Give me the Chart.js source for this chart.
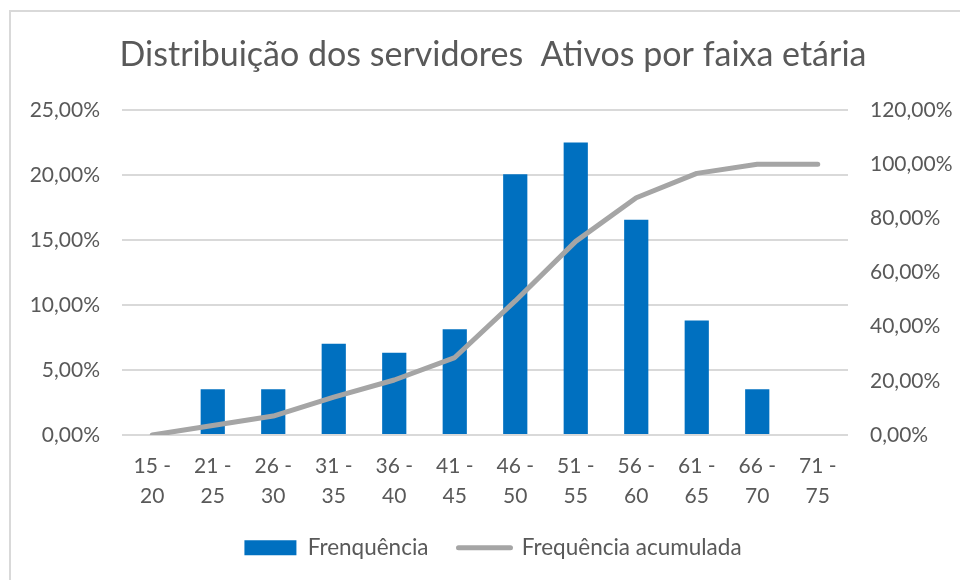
<!DOCTYPE html>
<html>
<head>
<meta charset="utf-8">
<script src="https://cdn.jsdelivr.net/npm/chart.js@4"></script>
<style>
  html, body { margin: 0; padding: 0; background: #fff; }
  #wrap { position: relative; width: 960px; height: 580px; overflow: hidden; }
  #frame { position: absolute; left: 9px; top: 10px; width: 1000px; height: 600px;
           border-left: 2px solid #D9D9D9; border-top: 2px solid #D9D9D9; box-sizing: border-box; }
  canvas { position: absolute; left: 0; top: 0; }
</style>
</head>
<body>
<div id="wrap">
  <div id="frame"></div>
  <canvas id="c" width="960" height="580"></canvas>
</div>
<script>
const categories = [["15 -","20"],["21 -","25"],["26 -","30"],["31 -","35"],["36 -","40"],["41 -","45"],["46 -","50"],["51 -","55"],["56 -","60"],["61 -","65"],["66 -","70"],["71 -","75"]];
const frequencia = [0, 3.51, 3.51, 7.02, 6.32, 8.14, 20.05, 22.5, 16.55, 8.8, 3.51, 0];
const frequenciaAcumulada = [0, 3.5, 7.0, 14.0, 20.3, 28.6, 49.5, 71.5, 87.6, 96.6, 100, 100];
const leftTicks = [0, 5, 10, 15, 20, 25];
const rightTicks = [0, 20, 40, 60, 80, 100, 120];
const titleText = "Distribuição dos servidores  Ativos por faixa etária";
const seriesNames = ["Frenquência", "Frequência acumulada"];

const FONT = "Lato, 'Open Sans', sans-serif";
const TXT = "#595959";
const fmt = v => v.toFixed(2).replace('.', ',') + '%';

new Chart(document.getElementById('c'), {
  data: {
    labels: categories,
    datasets: [
      { type: 'bar', label: seriesNames[0], data: frequencia, yAxisID: 'y',
        backgroundColor: '#0070C0', borderWidth: 0, order: 1,
        barPercentage: 0.4, categoryPercentage: 1.0 },
      { type: 'line', label: seriesNames[1], data: frequenciaAcumulada, yAxisID: 'y2',
        borderColor: '#A5A5A5', backgroundColor: '#A5A5A5', borderWidth: 5,
        pointRadius: 0, tension: 0, borderCapStyle: 'round', borderJoinStyle: 'round', order: 0 }
    ]
  },
  options: {
    responsive: false,
    animation: false,
    layout: { padding: { left: 26, right: 0, top: 0, bottom: 11 } },
    plugins: {
      tooltip: { enabled: false },
      title: { display: true, text: titleText, color: TXT,
        font: { family: FONT, size: 34, weight: 'normal', lineHeight: 1.2 },
        padding: { top: 34.6, bottom: 34.6 } },
      legend: { display: true, position: 'bottom',
        labels: {
          color: TXT, font: { family: FONT, size: 22.5 },
          usePointStyle: true, pointStyleWidth: 52, boxHeight: 15, padding: 30,
          generateLabels: () => [
            { text: seriesNames[0], fillStyle: '#0070C0', strokeStyle: '#0070C0', lineWidth: 0,
              pointStyle: 'rect', datasetIndex: 0, fontColor: TXT, hidden: false },
            { text: seriesNames[1], fillStyle: '#A5A5A5', strokeStyle: '#A5A5A5', lineWidth: 5,
              lineCap: 'round', pointStyle: 'line', datasetIndex: 1, fontColor: TXT, hidden: false }
          ]
        }
      }
    },
    scales: {
      x: {
        grid: { display: false, drawTicks: false },
        border: { display: false },
        afterFit: ax => { ax.height = 71.5; },
        ticks: { color: TXT, padding: 16, maxRotation: 0, autoSkip: false,
          font: { family: FONT, size: 21, lineHeight: 1.43 } }
      },
      y: {
        position: 'left', min: 0, max: 25,
        afterBuildTicks: ax => { ax.ticks = leftTicks.map(v => ({ value: v })); },
        afterFit: ax => { ax.width = 96; },
        grid: { color: '#D9D9D9', lineWidth: 2, drawTicks: false },
        border: { display: false },
        ticks: { color: TXT, padding: 22, callback: v => fmt(v), font: { family: FONT, size: 21 } }
      },
      y2: {
        position: 'right', min: 0, max: 120,
        afterBuildTicks: ax => { ax.ticks = rightTicks.map(v => ({ value: v })); },
        afterFit: ax => { ax.width = 112; },
        grid: { display: false, drawTicks: false },
        border: { display: false },
        ticks: { color: TXT, padding: 22, callback: v => fmt(v), font: { family: FONT, size: 21 } }
      }
    }
  }
});
</script>
</body>
</html>
